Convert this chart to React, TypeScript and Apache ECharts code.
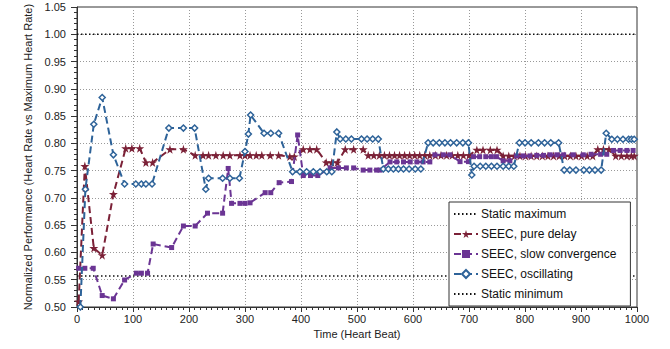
import React, { useEffect, useRef } from "react";
import * as echarts from "echarts";

const xTicks = { min: 0, max: 1000, interval: 100 };
const yTicks = { min: 0.5, max: 1.05, interval: 0.05 };

const staticMax: [number, number][] = [[0, 1.0], [1000, 1.0]];
const staticMin: [number, number][] = [[0, 0.557], [1000, 0.557]];

const pureDelay: [number, number][] = [
  [3, 0.51], [14, 0.7585], [30, 0.608], [45, 0.595], [65, 0.707], [87, 0.791], [98, 0.791], [112, 0.791],
  [123, 0.765], [135, 0.765], [166, 0.789], [190, 0.789], [211, 0.778], [225, 0.778], [235, 0.778],
  [248, 0.778], [261, 0.778], [273, 0.778], [291, 0.778], [300, 0.778], [309, 0.778], [320, 0.778],
  [330, 0.778], [345, 0.778], [360, 0.778], [380, 0.776], [388, 0.776], [404, 0.789], [416, 0.789],
  [428, 0.789], [445, 0.765], [455, 0.765], [465, 0.765], [479, 0.789], [494, 0.789], [511, 0.789],
  [520, 0.778], [530, 0.778], [540, 0.778], [549, 0.778], [558, 0.778], [567, 0.778], [576, 0.778],
  [585, 0.778], [594, 0.778], [603, 0.778], [612, 0.778], [621, 0.778], [630, 0.778], [640, 0.778],
  [650, 0.778], [660, 0.778], [670, 0.778], [680, 0.778], [690, 0.778], [700, 0.778], [714, 0.788],
  [725, 0.788], [738, 0.788], [750, 0.788], [761, 0.777], [771, 0.777], [781, 0.777], [791, 0.777],
  [801, 0.777], [811, 0.777], [821, 0.777], [831, 0.777], [841, 0.777], [851, 0.777], [861, 0.777],
  [871, 0.777], [881, 0.777], [891, 0.777], [901, 0.777], [911, 0.777], [921, 0.777], [930, 0.789],
  [940, 0.789], [950, 0.789], [962, 0.777], [972, 0.777], [982, 0.777], [990, 0.777], [995, 0.777],
];

const slowConvergence: [number, number][] = [
  [3, 0.571], [14, 0.571], [29, 0.571], [45, 0.521], [65, 0.515], [85, 0.5495], [106, 0.562],
  [115, 0.562], [126, 0.562], [136, 0.6155], [169, 0.609], [190, 0.6485], [211, 0.6485], [233, 0.672],
  [260, 0.672], [270, 0.754], [276, 0.69], [291, 0.69], [300, 0.69], [309, 0.691], [336, 0.7096],
  [346, 0.7096], [361, 0.728], [383, 0.73], [394, 0.8154], [404, 0.741], [417, 0.741], [430, 0.741],
  [452, 0.755], [467, 0.755], [481, 0.755], [494, 0.755], [511, 0.751], [523, 0.751], [535, 0.751],
  [541, 0.751], [559, 0.766], [571, 0.766], [583, 0.766], [595, 0.766], [607, 0.766], [618, 0.766],
  [630, 0.766], [639, 0.779], [654, 0.779], [666, 0.779], [684, 0.7665], [699, 0.7665], [708, 0.7756],
  [719, 0.7756], [730, 0.7756], [740, 0.7756], [749, 0.7756], [761, 0.768], [773, 0.768], [785, 0.777],
  [797, 0.777], [809, 0.777], [821, 0.778], [833, 0.778], [845, 0.779], [857, 0.779], [869, 0.779],
  [886, 0.779], [904, 0.779], [918, 0.78], [935, 0.78], [946, 0.78], [958, 0.787], [970, 0.787],
  [982, 0.787], [993, 0.787],
];

const oscillating: [number, number][] = [
  [6, 0.5], [15, 0.716], [30, 0.835], [45, 0.884], [65, 0.779], [85, 0.7255], [105, 0.7255],
  [115, 0.7255], [123, 0.7255], [134, 0.7255], [164, 0.828], [190, 0.828], [210, 0.828], [230, 0.716],
  [235, 0.736], [260, 0.736], [273, 0.736], [290, 0.736], [300, 0.785], [306, 0.817], [310, 0.852],
  [334, 0.8185], [346, 0.8185], [360, 0.8185], [385, 0.748], [398, 0.748], [410, 0.748], [422, 0.748],
  [434, 0.748], [446, 0.748], [455, 0.748], [464, 0.821], [470, 0.808], [480, 0.808], [490, 0.808],
  [508, 0.808], [518, 0.808], [528, 0.808], [538, 0.808], [547, 0.753], [556, 0.753], [565, 0.753],
  [574, 0.753], [583, 0.753], [593, 0.753], [604, 0.753], [614, 0.753], [627, 0.801], [636, 0.801],
  [647, 0.801], [657, 0.801], [667, 0.801], [678, 0.801], [689, 0.801], [699, 0.801], [705, 0.742],
  [709, 0.758], [720, 0.758], [730, 0.758], [740, 0.758], [750, 0.758], [761, 0.758], [771, 0.758],
  [780, 0.758], [790, 0.801], [800, 0.801], [811, 0.801], [824, 0.801], [835, 0.801], [846, 0.801],
  [860, 0.801], [870, 0.751], [880, 0.751], [891, 0.751], [905, 0.751], [915, 0.751], [925, 0.751],
  [936, 0.751], [945, 0.8185], [955, 0.8075], [965, 0.8075], [975, 0.8075], [985, 0.8075],
  [990, 0.8075], [995, 0.8075],
];

const seriesNames = [
  "Static maximum",
  "SEEC, pure delay",
  "SEEC, slow convergence",
  "SEEC, oscillating",
  "Static minimum",
];

const RED = "#7b2137";
const PURPLE = "#6b3594";
const BLUE = "#2e6399";
const STAR = "path://M50,0 L61,35 L98,35 L68,57 L79,91 L50,70 L21,91 L32,57 L2,35 L39,35 Z";
const FONT = "Liberation Sans, Arial, Helvetica, sans-serif";

export default function App() {
  const ref = useRef<HTMLDivElement>(null);
  useEffect(() => {
    if (!ref.current) return;
    const chart = echarts.init(ref.current, undefined, { renderer: "svg" });
    const staticLine = {
      type: "line",
      symbol: "none",
      lineStyle: { color: "#111", width: 1.5, type: [1.5, 2.5] },
      itemStyle: { color: "#111" },
      z: 3,
    };
    chart.setOption({
      animation: false,
      textStyle: { fontFamily: FONT },
      grid: { left: 77, right: 33, top: 7, bottom: 42, show: true, borderColor: "#333", borderWidth: 1, backgroundColor: "transparent" },
      legend: {
        orient: "vertical",
        left: 449,
        top: 202,
        width: 160,
        padding: [6, 14, 6, 4],
        itemGap: 8,
        itemWidth: 24,
        itemHeight: 10,
        backgroundColor: "#fff",
        borderColor: "#333",
        borderWidth: 1,
        borderRadius: 0,
        textStyle: { fontSize: 12, color: "#111", fontFamily: FONT, padding: [0, 0, 0, -2] },
        data: [
          { name: seriesNames[0], itemStyle: { opacity: 0 } },
          { name: seriesNames[1] },
          { name: seriesNames[2] },
          { name: seriesNames[3] },
          { name: seriesNames[4], itemStyle: { opacity: 0 } },
        ],
      },
      xAxis: {
        type: "value",
        min: xTicks.min,
        max: xTicks.max,
        interval: xTicks.interval,
        name: "Time (Heart Beat)",
        nameLocation: "middle",
        nameGap: 21,
        nameTextStyle: { fontSize: 11, color: "#222", fontFamily: FONT },
        axisLine: { show: true, lineStyle: { color: "#333", width: 1 } },
        axisTick: { show: true, length: 5, lineStyle: { color: "#333" } },
        minorTick: { show: true, splitNumber: 10, length: 3, lineStyle: { color: "#333" } },
        axisLabel: { fontSize: 11, color: "#222", margin: 6, fontFamily: FONT, formatter: (v: number) => String(v) },
        splitLine: { show: true, lineStyle: { color: "#999", type: [1, 2], width: 1 } },
      },
      yAxis: {
        type: "value",
        min: yTicks.min,
        max: yTicks.max,
        interval: yTicks.interval,
        name: "Normalized Performance (Heart Rate vs Maximum Heart Rate)",
        nameLocation: "middle",
        nameGap: 41,
        nameTextStyle: { fontSize: 11, color: "#222", fontFamily: FONT },
        axisLine: { show: true, lineStyle: { color: "#333", width: 1 } },
        axisTick: { show: true, length: 6, lineStyle: { color: "#333" } },
        minorTick: { show: true, splitNumber: 5, length: 3, lineStyle: { color: "#333" } },
        axisLabel: { fontSize: 11, color: "#222", margin: 11, fontFamily: FONT, formatter: (v: number) => v.toFixed(2) },
        splitLine: { show: true, lineStyle: { color: "#999", type: [1, 2], width: 1 } },
      },
      series: [
        { ...staticLine, name: seriesNames[0], data: staticMax },
        {
          type: "line",
          name: seriesNames[1],
          data: pureDelay,
          symbol: STAR,
          symbolSize: 9,
          lineStyle: { color: RED, width: 2, type: [7, 4] },
          itemStyle: { color: RED },
          z: 4,
        },
        {
          type: "line",
          name: seriesNames[2],
          data: slowConvergence,
          symbol: "rect",
          symbolSize: 5,
          lineStyle: { color: PURPLE, width: 2, type: [7, 4] },
          itemStyle: { color: PURPLE },
          z: 5,
        },
        {
          type: "line",
          name: seriesNames[3],
          data: oscillating,
          symbol: "diamond",
          symbolSize: 6,
          lineStyle: { color: BLUE, width: 2, type: [7, 4] },
          itemStyle: { color: "#fff", borderColor: BLUE, borderWidth: 1.5 },
          z: 6,
        },
        { ...staticLine, name: seriesNames[4], data: staticMin },
      ],
    });
    return () => chart.dispose();
  }, []);
  return <div ref={ref} style={{ position: "fixed", left: 0, top: 0, width: 670, height: 349, background: "#fff" }} />;
}
